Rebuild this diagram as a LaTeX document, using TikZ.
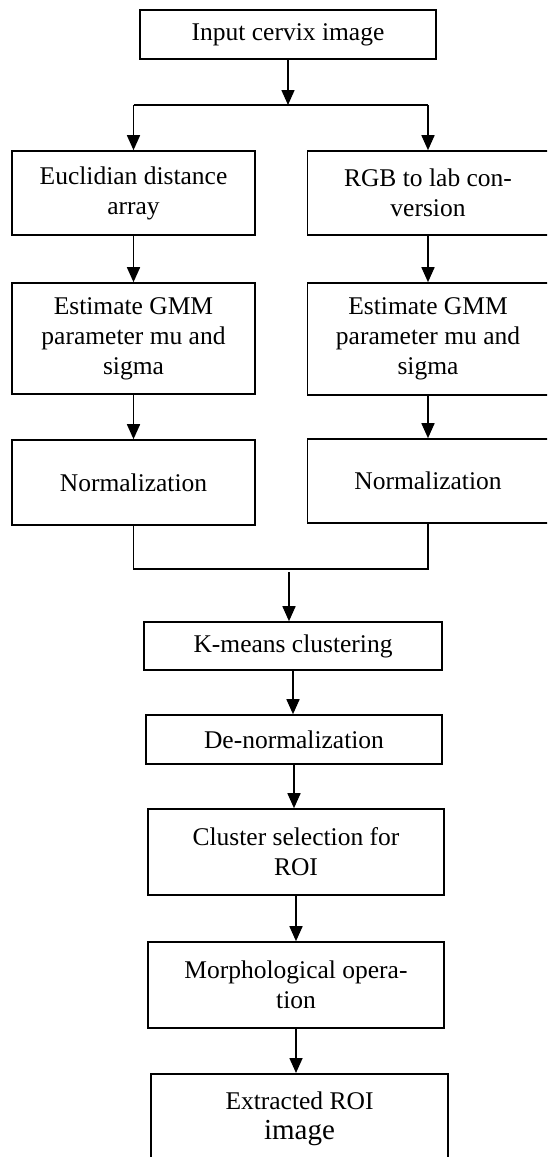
\documentclass[tikz,border=0pt]{standalone}
\usepackage{fontspec}
\setmainfont{Liberation Serif}
\usetikzlibrary{arrows.meta}

\tikzset{
  block/.style={draw, line width=1.6pt, align=center, inner sep=0pt,
    font=\fontsize{25.5}{30}\selectfont},
  flow/.style={-{Triangle[length=15pt,width=13pt]}, line width=1.6pt},
  joint/.style={line width=1.6pt}
}

\begin{document}
\begin{tikzpicture}[x=1pt, y=-1pt]
        \useasboundingbox (0,0) rectangle (547,1157);
        \clip (0,0) rectangle (547,1157);

        \node[block, minimum width=296pt, minimum height=49pt] (input) at (288, 34.5) {Input cervix image};

        % two branches
        \node[block, minimum width=243pt, minimum height=84pt] (eucl) at (133.5, 193) {Euclidian distance\\array};
        \node[block, minimum width=241pt, minimum height=84pt] (rgb) at (428, 193) {RGB to lab con-\\version};
        \node[block, minimum width=243pt, minimum height=111pt] (gmmL) at (133.5, 338.5) {Estimate GMM\\parameter mu and\\sigma};
        \node[block, minimum width=241pt, minimum height=112pt] (gmmR) at (428, 339) {Estimate GMM\\parameter mu and\\sigma};
        \node[block, minimum width=243pt, minimum height=85pt] (normL) at (133.5, 482.5) {Normalization};
        \node[block, minimum width=241pt, minimum height=84pt] (normR) at (428, 481) {Normalization};

        % main column
        \node[block, minimum width=298pt, minimum height=48pt] (kmeans) at (293, 646) {K-means clustering};
        \node[block, minimum width=296pt, minimum height=49pt] (denorm) at (294, 739.5) {De-normalization};
        \node[block, minimum width=296pt, minimum height=86pt] (cluster) at (296, 852) {Cluster selection for\\ROI};
        \node[block, minimum width=296pt, minimum height=86pt] (morph) at (296, 985) {Morphological opera-\\tion};
        \node[block, anchor=north, minimum width=297pt, minimum height=90pt] (roi) at (299.5, 1073) {Extracted ROI\\{\fontsize{29}{34}\selectfont image}};

        \coordinate (split) at (288, 105);
        \coordinate (merge) at (289, 569);
        \coordinate (mergeout) at (289, 572);

        \draw[flow] (input.south) to (split);
        \draw[joint] (split -| eucl.north) to (split -| rgb.north);
        \draw[flow] (split -| eucl.north) to (eucl.north);
        \draw[flow] (split -| rgb.north) to (rgb.north);

        \draw[flow] (eucl.south) to (eucl.south |- gmmL.north);
        \draw[flow] (rgb.south) to (rgb.south |- gmmR.north);
        \draw[flow] (gmmL.south) to (gmmL.south |- normL.north);
        \draw[flow] (gmmR.south) to (gmmR.south |- normR.north);

        \draw[joint] (normL.south) |- (merge -| normR.south) -- (normR.south);
        \draw[flow] (mergeout) to (mergeout |- kmeans.north);

        \draw[flow] (kmeans.south) to (kmeans.south |- denorm.north);
        \draw[flow] (denorm.south) to (denorm.south |- cluster.north);
        \draw[flow] (cluster.south) to (cluster.south |- morph.north);
        \draw[flow] (morph.south) to (morph.south |- roi.north);
      \end{tikzpicture}
\end{document}
